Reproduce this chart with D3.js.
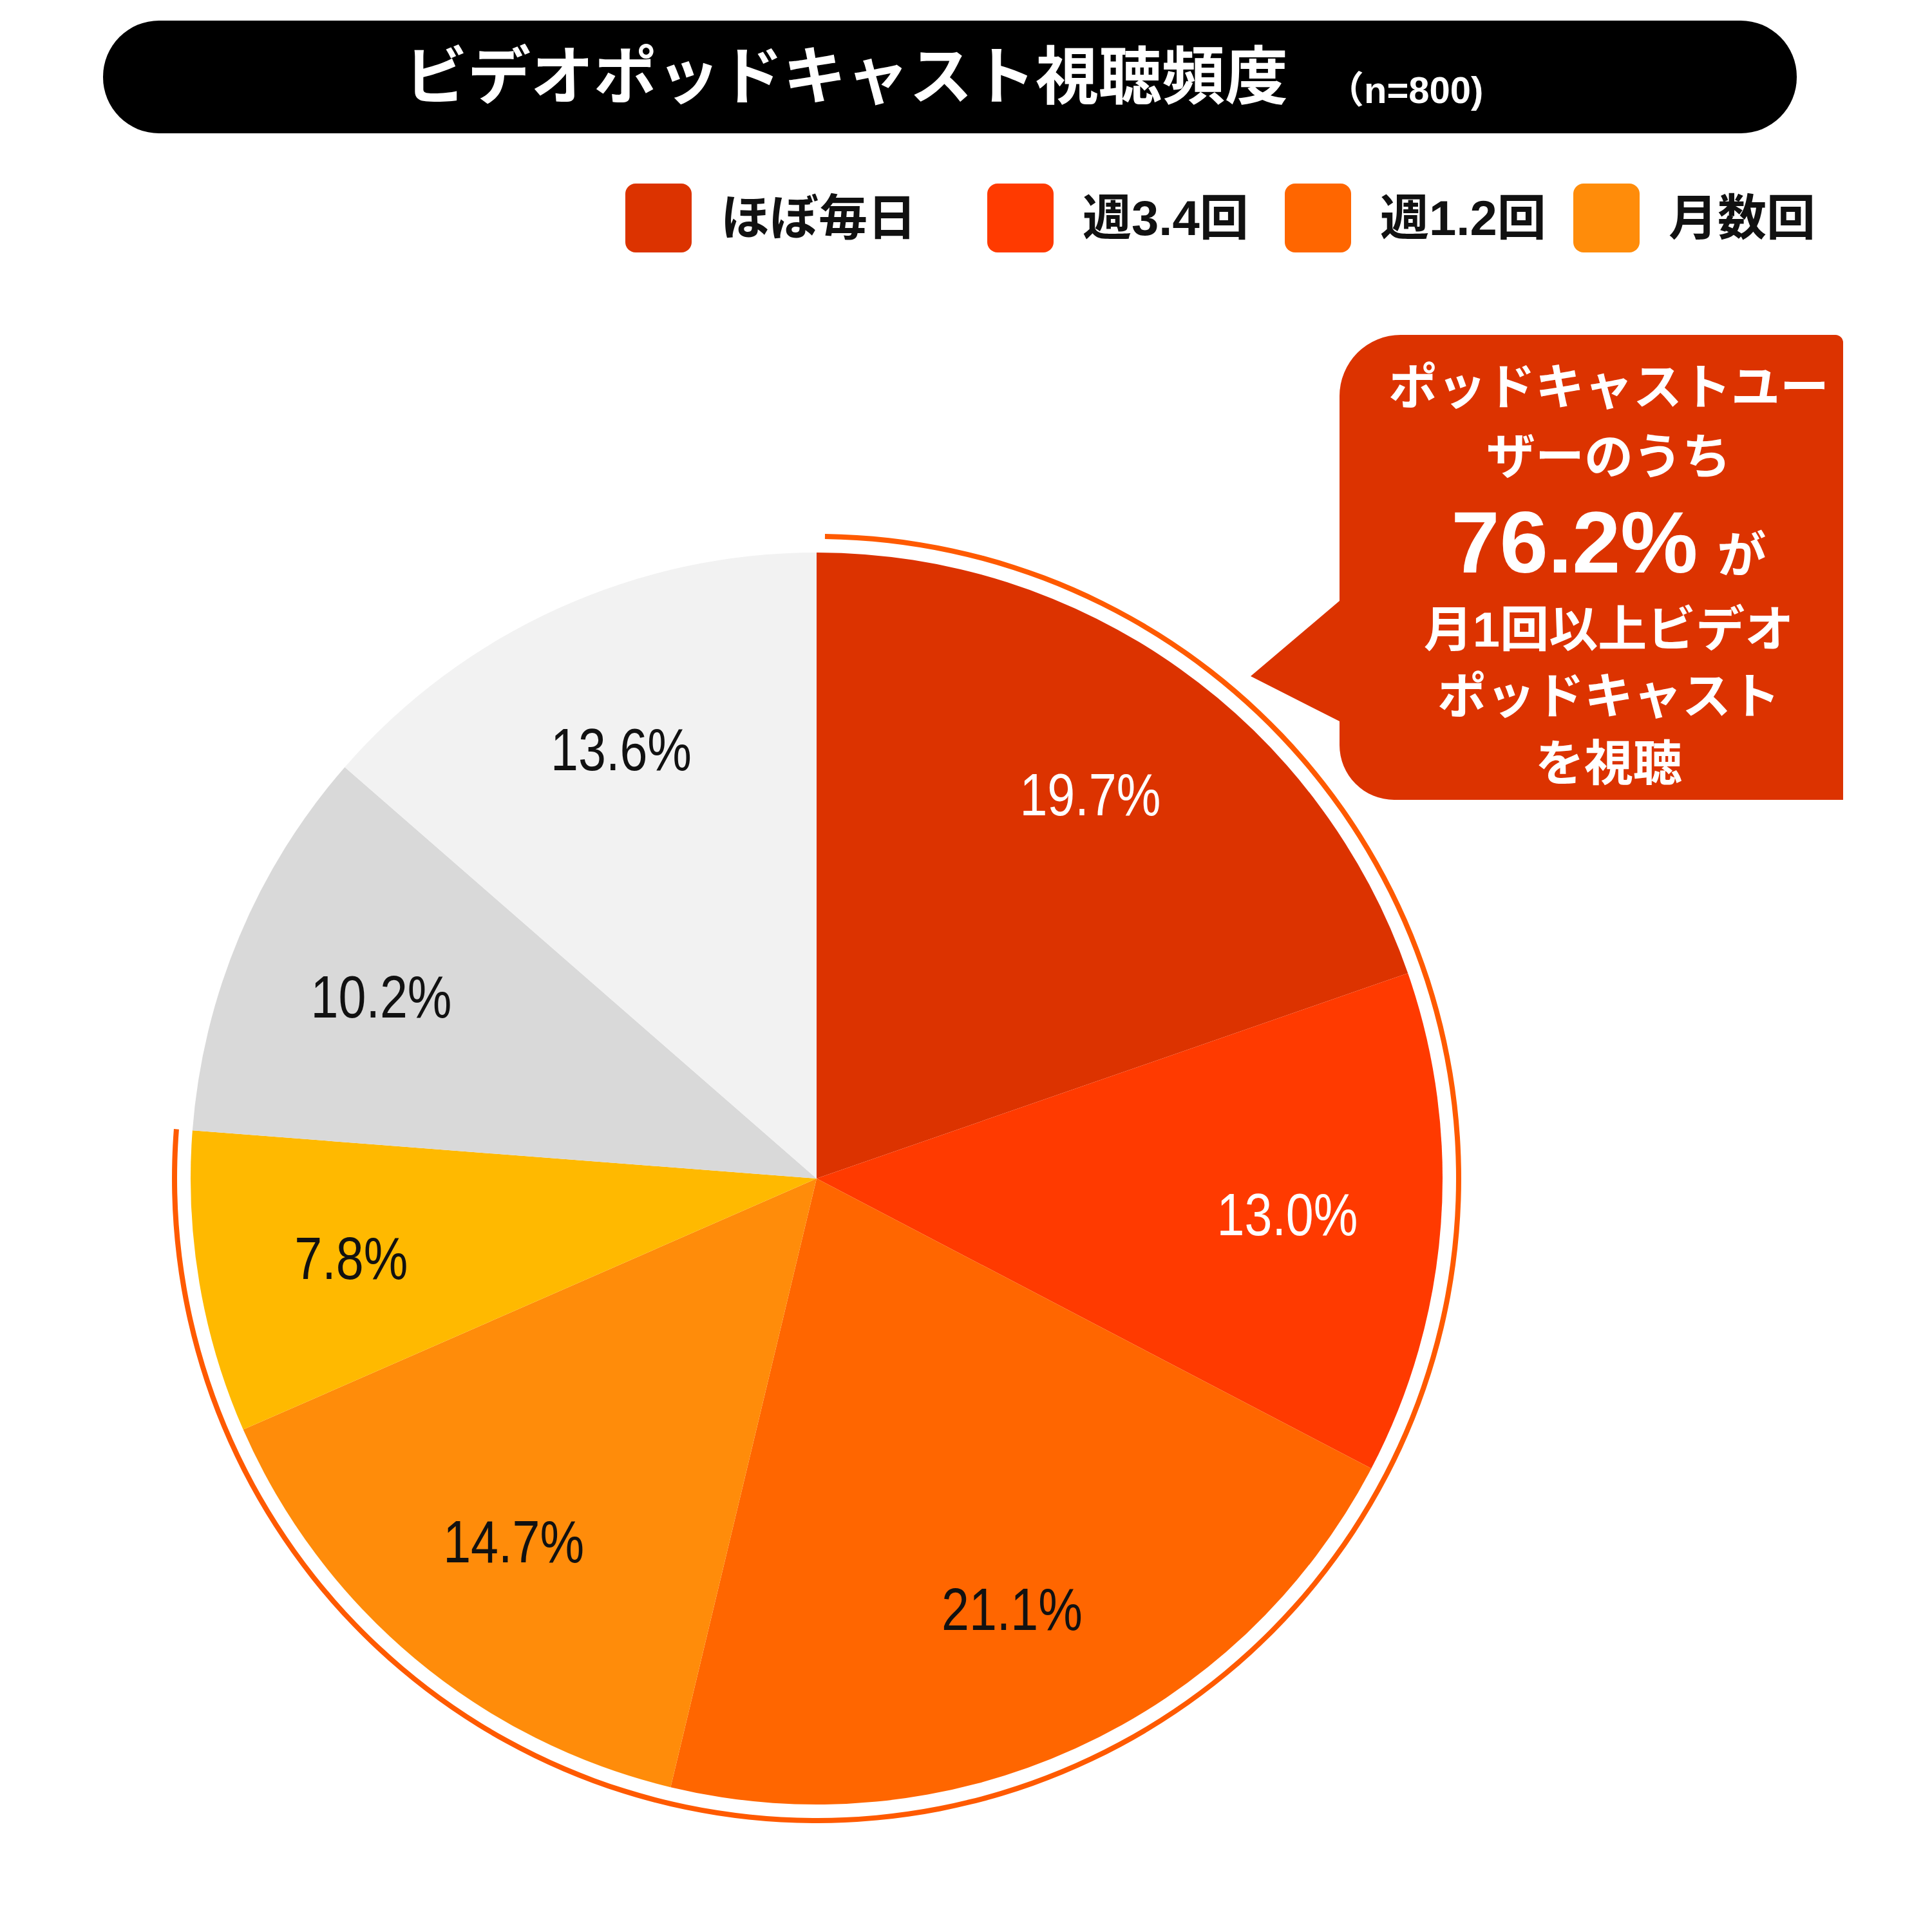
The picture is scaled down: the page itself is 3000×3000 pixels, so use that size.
<!DOCTYPE html>
<html>
<head>
<meta charset="utf-8">
<script src="https://cdn.jsdelivr.net/npm/d3@7"></script>
<style>
  body { margin: 0; background: #fff; }
  text { font-family: "Liberation Sans", Arial, "Noto Sans CJK JP", sans-serif; }
</style>
</head>
<body>
<svg id="chart" width="3000" height="3000"></svg>
<script>
// chart data
var titleText = 'ビデオポッドキャスト視聴頻度';
var sampleText = '（n=800)';
var legendLabels = ['ほぼ毎日', '週3.4回', '週1.2回', '月数回'];
var sliceValues = [19.7, 13.0, 21.1, 14.7, 7.8, 10.2, 13.6];
var sliceColors = ['#dc3300', '#ff3a00', '#ff6600', '#ff8c0a', '#ffb900', '#d9d9d9', '#f2f2f2'];
var labelColors = ['#ffffff', '#ffffff', '#111111', '#111111', '#111111', '#111111', '#111111'];
var highlightCount = 5;   // slices under the orange ring
var calloutTop = ['ポッドキャストユー', 'ザーのうち'];
var calloutValue = '76.2%';
var calloutParticle = 'が';
var calloutBottom = ['月1回以上ビデオ', 'ポッドキャスト', 'を視聴'];

d3.select(window).on('load', init);

function init() {
    var svg = d3.select('#chart');
    var cx = 1268, cy = 1830, radius = 972;

    // title bar
    svg.append('rect')
        .attr('x', 160).attr('y', 32)
        .attr('width', 2630).attr('height', 175)
        .attr('rx', 87).attr('ry', 87)
        .attr('fill', '#000');

    svg.append('text')
        .attr('x', 628).attr('y', 153)
        .attr('fill', '#fff')
        .attr('font-size', 98)
        .attr('font-weight', 'bold')
        .style('font-family', '"Noto Sans CJK JP", sans-serif')
        .text(titleText);

    svg.append('text')
        .attr('x', 2060).attr('y', 160)
        .attr('fill', '#fff')
        .attr('font-size', 58)
        .attr('font-weight', 'bold')
        .text(sampleText);

    // legend
    var legendX = [971, 1533, 1995, 2443];
    var color = d3.scaleOrdinal().domain(d3.range(sliceValues.length)).range(sliceColors);

    var legend = svg.append('g').selectAll('g')
        .data(legendLabels)
        .enter()
        .append('g')
        .attr('transform', function (d, i) { return 'translate(' + legendX[i] + ',285)'; });

    legend.append('rect')
        .attr('width', 103).attr('height', 107)
        .attr('rx', 16).attr('ry', 16)
        .attr('fill', function (d, i) { return color(i); });

    legend.append('text')
        .attr('x', 148).attr('y', 80)
        .attr('font-size', 76)
        .attr('font-weight', 'bold')
        .attr('fill', '#111')
        .text(function (d) { return d; });

    // pie
    var pie = d3.pie().sort(null).value(function (d) { return d; });
    var arcs = pie(sliceValues);
    var arc = d3.arc().innerRadius(0).outerRadius(radius);
    var labelArc = d3.arc().innerRadius(733).outerRadius(733);
    var fmt = d3.format('.1f');

    var g = svg.append('g').attr('transform', 'translate(' + cx + ',' + cy + ')');

    g.selectAll('path.slice')
        .data(arcs)
        .enter()
        .append('path')
        .attr('class', 'slice')
        .attr('d', arc)
        .attr('fill', function (d, i) { return color(i); });

    // orange ring around the slices watched at least monthly
    var ring = d3.arc().innerRadius(993).outerRadius(1001);
    g.append('path')
        .attr('d', ring({
            startAngle: arcs[0].startAngle + 0.013,
            endAngle: arcs[highlightCount - 1].endAngle
        }))
        .attr('fill', '#ff5a00');

    g.selectAll('text.pct')
        .data(arcs)
        .enter()
        .append('text')
        .attr('class', 'pct')
        .attr('transform', function (d) {
            var c = labelArc.centroid(d);
            return 'translate(' + c[0] + ',' + c[1] + ') scale(0.83,1)';
        })
        .attr('text-anchor', 'middle')
        .attr('dy', '0.36em')
        .attr('font-size', 93)
        .attr('fill', function (d, i) { return labelColors[i]; })
        .text(function (d) { return fmt(d.data) + '%'; });

    // callout bubble
    var L = 2080, R = 2862, T = 520, B = 1242;
    var bubble = d3.path();
    bubble.moveTo(L, T + 95);
    bubble.arcTo(L, T, L + 95, T, 95);
    bubble.lineTo(R - 12, T);
    bubble.arcTo(R, T, R, T + 12, 12);
    bubble.lineTo(R, B);
    bubble.lineTo(L + 85, B);
    bubble.arcTo(L, B, L, B - 85, 85);
    bubble.lineTo(L, 1120);
    bubble.lineTo(1942, 1050);
    bubble.lineTo(L, 933);
    bubble.closePath();

    svg.append('path')
        .attr('d', bubble.toString())
        .attr('fill', '#dc3300');

    var bx = 2498;
    var callout = svg.append('g')
        .attr('fill', '#fff')
        .attr('font-weight', 'bold')
        .attr('text-anchor', 'middle');

    callout.selectAll('text.top')
        .data(calloutTop)
        .enter()
        .append('text')
        .attr('x', bx)
        .attr('y', function (d, i) { return 628 + i * 108; })
        .attr('font-size', 76)
        .text(function (d) { return d; });

    var big = callout.append('text')
        .attr('x', bx).attr('y', 889);
    big.append('tspan')
        .attr('font-size', 135)
        .text(calloutValue);
    big.append('tspan')
        .attr('font-size', 76)
        .attr('dx', 30)
        .text(calloutParticle);

    callout.selectAll('text.bottom')
        .data(calloutBottom)
        .enter()
        .append('text')
        .attr('x', bx)
        .attr('y', function (d, i) { return 1004 + i * 104; })
        .attr('font-size', 76)
        .text(function (d) { return d; });
}
</script>
</body>
</html>
